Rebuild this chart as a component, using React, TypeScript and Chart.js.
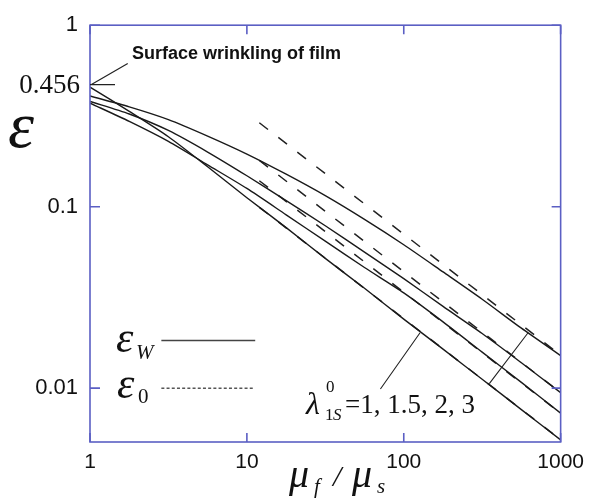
import React, { useEffect, useRef } from "react";
import { Chart, registerables } from "chart.js";
Chart.register(...registerables);

// mu_f / mu_s sample positions for the wrinkling curves
const ratio = [1, 1.78, 3.16, 5.62, 10, 17.8, 31.6, 56.2, 100, 178, 316, 562, 1000];
// epsilon_W (solid) for lambda = 1, 1.5, 2, 3
const epsW_l1 = [0.456, 0.335, 0.243, 0.166, 0.112, 0.0767, 0.0519, 0.0355, 0.024, 0.0164, 0.0112, 0.00762, 0.00519];
const epsW_l15 = [0.372, 0.295, 0.229, 0.17, 0.126, 0.0902, 0.0646, 0.0462, 0.0335, 0.0232, 0.0158, 0.01076, 0.00728];
const epsW_l2 = [0.38, 0.324, 0.263, 0.2, 0.148, 0.108, 0.0785, 0.0562, 0.0401, 0.0282, 0.02, 0.0138, 0.00944];
const epsW_l3 = [0.407, 0.355, 0.302, 0.245, 0.195, 0.151, 0.115, 0.0851, 0.0617, 0.0437, 0.0309, 0.0214, 0.0151];
// epsilon_0 (dashed) asymptotes
const ratio0 = [12, 1000];
const eps0_l1 = [0.0992, 0.0052];
const eps0_l15 = [0.139, 0.00727];
const eps0_l2 = [0.18, 0.00944];
const eps0_l3 = [0.29, 0.0152];

const X_TICKS = [1, 10, 100, 1000];
const X_TICK_LABELS = ["1", "10", "100", "1000"];
const Y_TICKS = [0.01, 0.1, 1];
const Y_TICK_LABELS = ["0.01", "0.1", "1"];

const SERIF = '"Liberation Serif", "DejaVu Serif", serif';
const SANS = '"Liberation Sans", Arial, sans-serif';
const FRAME = "#5b5fc4";

export default function App() {
  const ref = useRef<HTMLCanvasElement>(null);
  useEffect(() => {
    const canvas = ref.current!;
    const toXY = (xs: number[], ys: number[]) => xs.map((x, i) => ({ x, y: ys[i] }));
    const solid = (d: number[]) => ({
      data: toXY(ratio, d),
      borderColor: "#1a1a1a",
      borderWidth: 1.4,
      pointRadius: 0,
      tension: 0.25,
      fill: false,
    });
    const dashed = (d: number[]) => ({
      data: toXY(ratio0, d),
      borderColor: "#222",
      borderWidth: 1.5,
      borderDash: [11, 13],
      pointRadius: 0,
      tension: 0,
      fill: false,
    });

    const deco = {
      id: "deco",
      afterDraw(chart: any) {
        const { ctx, chartArea: a, scales } = chart;
        const xs = scales.x, ys = scales.y;
        const X = (v: number) => xs.getPixelForValue(v);
        const Y = (v: number) => ys.getPixelForValue(v);
        ctx.save();
        // frame + inward ticks
        ctx.strokeStyle = FRAME;
        ctx.lineWidth = 1.6;
        ctx.strokeRect(a.left, a.top, a.right - a.left, a.bottom - a.top);
        ctx.beginPath();
        xs.ticks.forEach((t: any) => {
          const p = X(t.value);
          ctx.moveTo(p, a.bottom); ctx.lineTo(p, a.bottom - 9);
          ctx.moveTo(p, a.top); ctx.lineTo(p, a.top + 9);
        });
        ys.ticks.forEach((t: any) => {
          const p = Y(t.value);
          ctx.moveTo(a.left, p); ctx.lineTo(a.left + 10, p);
          ctx.moveTo(a.right, p); ctx.lineTo(a.right - 9, p);
        });
        ctx.stroke();

        ctx.fillStyle = "#111";
        ctx.strokeStyle = "#222";
        ctx.lineWidth = 1.2;
        // 0.456 marker and leader
        const y456 = Y(0.47);
        ctx.beginPath();
        ctx.moveTo(a.left, y456); ctx.lineTo(a.left + 25, y456);
        ctx.moveTo(a.left + 1, y456); ctx.lineTo(X(1.74), Y(0.615));
        ctx.stroke();
        ctx.textBaseline = "middle";
        ctx.textAlign = "right";
        ctx.font = `27px ${SERIF}`;
        ctx.fillText("0.456", a.left - 10, Y(0.456) - 1);
        ctx.textAlign = "left";
        ctx.font = `bold 18px ${SANS}`;
        ctx.fillText("Surface wrinkling of film", X(1.85), Y(0.69));

        // y-axis symbol
        ctx.textBaseline = "alphabetic";
        ctx.font = `italic 66px ${SERIF}`;
        ctx.fillText("\u03b5", 8, 147);

        // x-axis title
        ctx.font = `italic 40px ${SERIF}`;
        ctx.fillText("\u03bc", 289, 487);
        ctx.fillText("\u03bc", 352, 487);
        ctx.font = `italic 21px ${SERIF}`;
        ctx.fillText("f", 314, 493);
        ctx.fillText("s", 377, 493);
        ctx.font = `italic 30px ${SERIF}`;
        ctx.fillText("/", 333, 486);

        // legend
        ctx.lineWidth = 1.5;
        ctx.strokeStyle = "#444";
        ctx.beginPath();
        ctx.moveTo(X(2.85), Y(0.0183)); ctx.lineTo(X(11.3), Y(0.0183));
        ctx.stroke();
        ctx.setLineDash([3, 2.2]);
        ctx.strokeStyle = "#555";
        ctx.beginPath();
        ctx.moveTo(X(2.85), Y(0.01)); ctx.lineTo(X(11.2), Y(0.01));
        ctx.stroke();
        ctx.setLineDash([]);
        ctx.font = `italic 44px ${SERIF}`;
        ctx.fillText("\u03b5", 116, 352);
        ctx.fillText("\u03b5", 117, 398);
        ctx.font = `italic 21px ${SERIF}`;
        ctx.fillText("W", 136, 359);
        ctx.font = `21px ${SERIF}`;
        ctx.fillText("0", 138, 403);

        // lambda label + leaders
        ctx.strokeStyle = "#222";
        ctx.lineWidth = 1.1;
        ctx.beginPath();
        ctx.moveTo(X(71), Y(0.0099)); ctx.lineTo(X(127), Y(0.0202));
        ctx.moveTo(X(351), Y(0.0106)); ctx.lineTo(X(620), Y(0.0202));
        ctx.stroke();
        ctx.font = `italic 32px ${SERIF}`;
        ctx.fillText("\u03bb", 306, 414);
        ctx.font = `17px ${SERIF}`;
        ctx.fillText("0", 326, 392);
        ctx.fillText("1", 325, 420);
        ctx.font = `italic 17px ${SERIF}`;
        ctx.fillText("S", 333, 420);
        ctx.font = `27px ${SERIF}`;
        ctx.fillText("=1, 1.5, 2, 3", 345, 413);
        ctx.restore();
      },
    };

    const chart = new Chart(canvas, {
      type: "line",
      data: {
        datasets: [
          solid(epsW_l1), solid(epsW_l15), solid(epsW_l2), solid(epsW_l3),
          dashed(eps0_l1), dashed(eps0_l15), dashed(eps0_l2), dashed(eps0_l3),
        ] as any,
      },
      options: {
        animation: false,
        responsive: false,
        maintainAspectRatio: false,
        layout: { padding: { top: 18, right: 27, left: 0, bottom: 0 } },
        plugins: { legend: { display: false }, tooltip: { enabled: false } },
        scales: {
          x: {
            type: "logarithmic",
            min: 1,
            max: 1000,
            afterBuildTicks: (s: any) => { s.ticks = X_TICKS.map((v) => ({ value: v })); },
            afterFit: (s: any) => { s.height = 60; },
            grid: { display: false, drawTicks: false },
            border: { display: false },
            ticks: {
              padding: 8,
              autoSkip: false,
              maxRotation: 0,
              color: "#111",
              font: { family: SANS, size: 21 },
              callback: (_v: any, i: number) => X_TICK_LABELS[i],
            },
          },
          y: {
            type: "logarithmic",
            min: 0.00505,
            max: 1,
            afterBuildTicks: (s: any) => { s.ticks = Y_TICKS.map((v) => ({ value: v })); },
            afterFit: (s: any) => { s.width = 90; },
            grid: { display: false, drawTicks: false },
            border: { display: false },
            ticks: {
              padding: 12,
              autoSkip: false,
              color: "#111",
              font: { family: SANS, size: 22 },
              callback: (_v: any, i: number) => Y_TICK_LABELS[i],
            },
          },
        },
      } as any,
      plugins: [deco],
    });
    return () => chart.destroy();
  }, []);
  return (
    <div style={{ position: "fixed", left: 0, top: 0, width: 592, height: 502, background: "#fff" }}>
      <canvas ref={ref} width={592} height={502} style={{ width: 592, height: 502, display: "block" }} />
    </div>
  );
}
